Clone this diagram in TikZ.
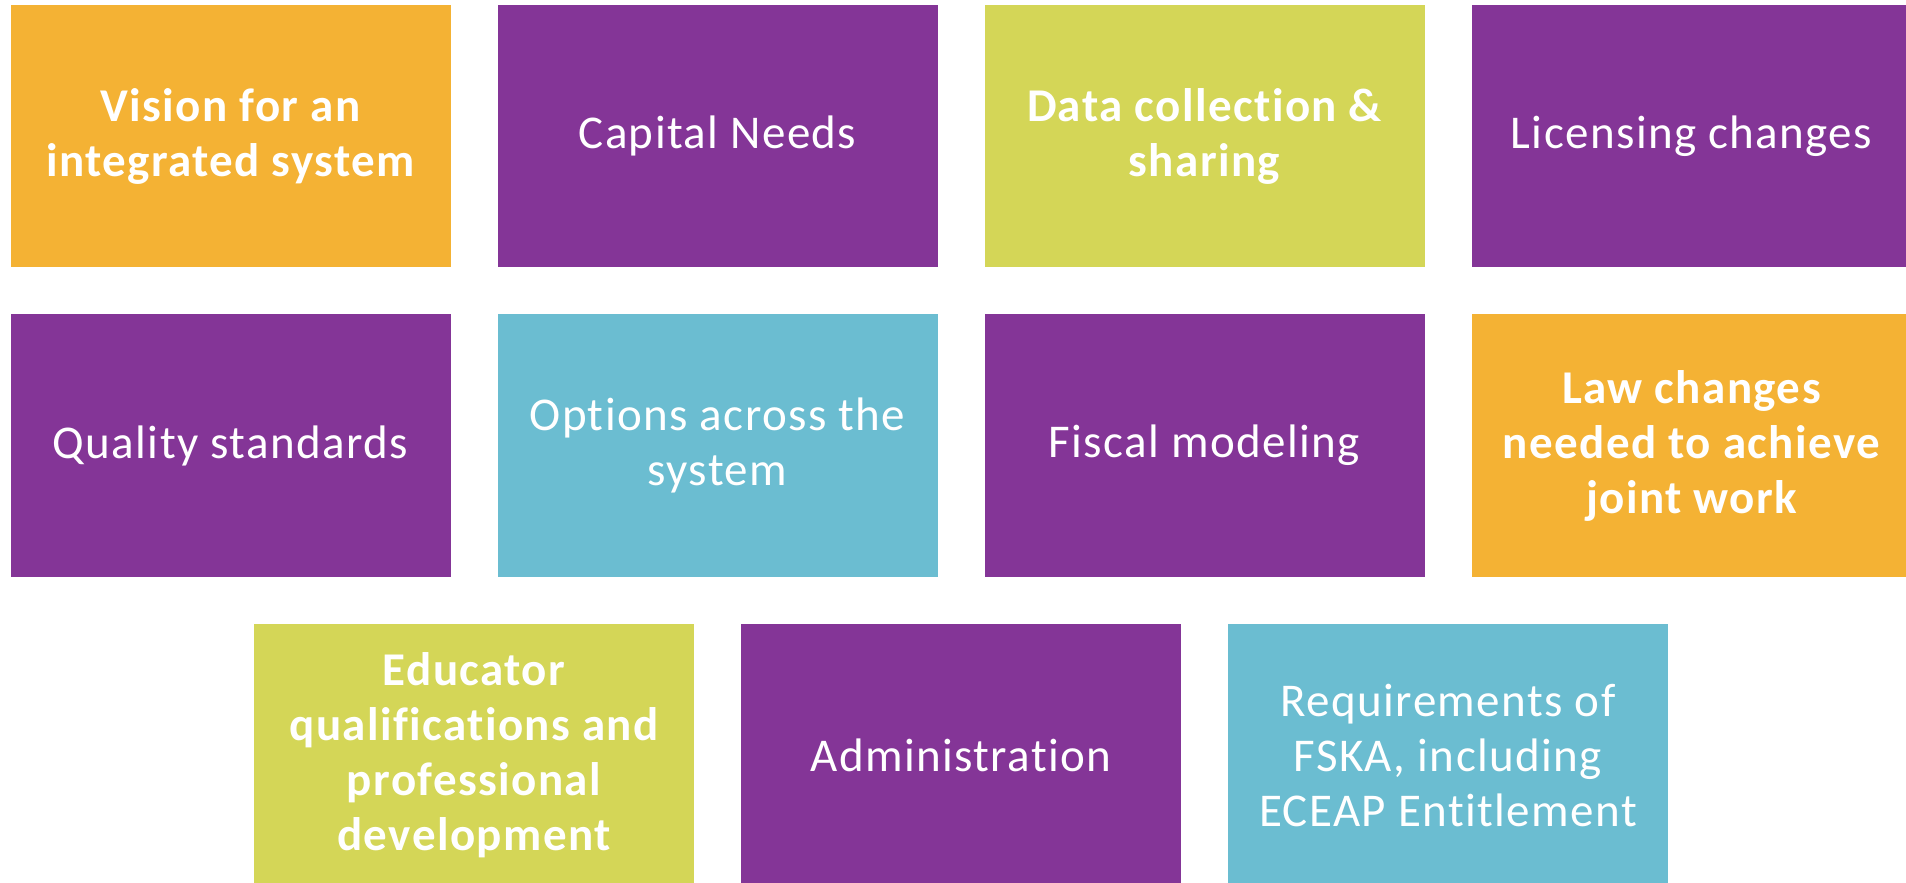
\documentclass[tikz,border=0pt]{standalone}
\usepackage{fontspec}
\setmainfont[LetterSpace=3,Ligatures=NoCommon]{Carlito}
\definecolor{corange}{HTML}{F4B234}
\definecolor{cpurple}{HTML}{843597}
\definecolor{clime}{HTML}{D4D657}
\definecolor{cblue}{HTML}{6BBDD1}
\begin{document}
\begin{tikzpicture}[x=1pt,y=-1pt,
  tile/.style={rectangle, inner sep=0pt, minimum width=440pt, minimum height=262.6pt, text=white, align=center, font=\fontsize{47}{55}\selectfont},
  boldtile/.style={tile, font=\fontsize{47}{55}\selectfont\bfseries}]
\useasboundingbox (0,0) rectangle (1906,883);
\node[boldtile, fill=corange] (n1) at (230.5,136) {Vision for an\\integrated system};
\node[tile, fill=cpurple] (n2) at (717.5,136) {Capital Needs};
\node[boldtile, fill=clime] (n3) at (1204.5,136) {Data collection \&\\sharing};
\node[tile, fill=cpurple] (n4) at (1691.5,136) {Licensing changes};
\node[tile, fill=cpurple] (n5) at (230.5,445.6) {Quality standards};
\node[tile, fill=cblue] (n6) at (717.5,445.6) {Options across the\\system};
\node[tile, fill=cpurple] (n7) at (1204.5,445.6) {Fiscal modeling};
\node[boldtile, fill=corange] (n8) at (1691.5,445.6) {Law changes\\needed to achieve\\joint work};
\node[boldtile, fill=clime] (n9) at (474,755.3) {Educator\\qualifications and\\professional\\development};
\node[tile, fill=cpurple] (n10) at (961,755.3) {Administration};
\node[tile, fill=cblue] (n11) at (1448,755.3) {Requirements of\\FSKA, including\\ECEAP Entitlement};
\end{tikzpicture}
\end{document}
